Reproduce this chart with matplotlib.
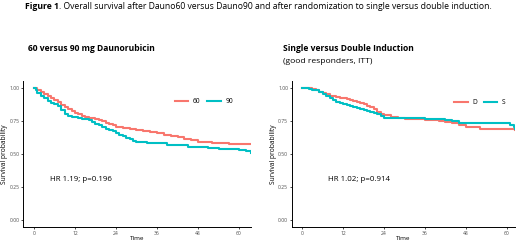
import matplotlib.pyplot as plt
from matplotlib.text import Annotation

# overall survival, 60 vs 90 mg daunorubicin
t60 = [0, 1, 2, 3, 4, 5, 6, 7, 8, 9, 10, 11, 12, 13, 14, 15, 16, 17, 18, 19, 20, 21, 22, 23, 24,
       26, 28, 30, 32, 34, 36, 38, 40, 42, 44, 46, 48, 50, 52, 54, 57, 60, 63.5]
s60 = [1.0, 0.98, 0.965, 0.95, 0.935, 0.92, 0.905, 0.89, 0.87, 0.855, 0.84, 0.825, 0.81, 0.80,
       0.79, 0.78, 0.775, 0.77, 0.76, 0.755, 0.745, 0.735, 0.725, 0.715, 0.705, 0.695, 0.69, 0.68,
       0.67, 0.665, 0.655, 0.645, 0.635, 0.625, 0.615, 0.605, 0.59, 0.588, 0.585, 0.58, 0.578,
       0.578, 0.578]
t90 = [0, 0.5, 1, 2, 3, 4, 5, 6, 7, 8, 9, 10, 11, 12, 13, 14, 15, 16, 17, 18, 19, 20, 21, 22, 23,
       24, 25, 26, 27, 28, 29, 30, 33, 36, 39, 42, 45, 48, 51, 54, 57, 60, 62, 63.5]
s90 = [1.0, 0.98, 0.96, 0.94, 0.92, 0.90, 0.885, 0.875, 0.86, 0.83, 0.80, 0.785, 0.78, 0.78, 0.77,
       0.765, 0.76, 0.755, 0.74, 0.725, 0.715, 0.705, 0.69, 0.68, 0.67, 0.655, 0.645, 0.635, 0.62,
       0.61, 0.60, 0.59, 0.585, 0.58, 0.57, 0.565, 0.555, 0.55, 0.545, 0.54, 0.535, 0.53, 0.52,
       0.505]

# single (S) vs double (D) induction
tD = [0, 3, 4, 5, 6, 7, 8, 9, 10, 11, 12, 13, 14, 15, 16, 17, 18, 19, 20, 21, 22, 23, 24, 26,
      28, 30, 36, 40, 42, 44, 46, 48, 52, 56, 60, 62, 62.4]
sD = [1.0, 0.99, 0.98, 0.97, 0.96, 0.955, 0.94, 0.935, 0.93, 0.925, 0.92, 0.915, 0.91, 0.90,
      0.895, 0.885, 0.875, 0.865, 0.855, 0.84, 0.82, 0.805, 0.795, 0.78, 0.77, 0.76, 0.755, 0.75,
      0.74, 0.73, 0.72, 0.70, 0.69, 0.69, 0.69, 0.685, 0.68]
tS = [0, 2, 3, 4, 5, 6, 7, 8, 9, 10, 11, 12, 13, 14, 15, 16, 17, 18, 19, 20, 21, 22, 23, 24, 30,
      36, 40, 42, 44, 46, 50, 55, 60, 61, 62, 62.4]
sS = [1.0, 0.99, 0.985, 0.98, 0.97, 0.955, 0.935, 0.92, 0.905, 0.895, 0.885, 0.88, 0.87, 0.865,
      0.855, 0.845, 0.84, 0.835, 0.825, 0.82, 0.81, 0.80, 0.785, 0.775, 0.77, 0.765, 0.76, 0.755,
      0.745, 0.735, 0.73, 0.73, 0.73, 0.72, 0.70, 0.69]

RED = '#F8766D'
TEAL = '#00BFC4'
plt.rcParams['font.family'] = ['Open Sans', 'DejaVu Sans']

fig = plt.figure(figsize=(5.2, 2.42), dpi=100)

# title: bold "Figure 1" followed by regular text
t1 = fig.text(25 / 520, 1 - 9 / 242, 'Figure 1', fontsize=6.2, fontweight='bold', va='baseline')
fig.add_artist(Annotation(
    '. Overall survival after Dauno60 versus Dauno90 and after randomization to single versus double induction.',
    xy=(1, 0), xycoords=t1, va='bottom', fontsize=6.2, annotation_clip=False))

fig.text(28 / 520, 1 - 51 / 242, '60 versus 90 mg Daunorubicin', fontsize=6.1, fontweight='bold', va='baseline')
fig.text(283 / 520, 1 - 51 / 242, 'Single versus Double Induction', fontsize=6.1, fontweight='bold', va='baseline')
fig.text(283 / 520, 1 - 63 / 242, '(good responders, ITT)', fontsize=6.1, va='baseline')

panels = [
    dict(rect=[23 / 520, 1 - 227 / 242, 228 / 520, 146 / 242], xlim=(-3.2, 63.5),
         curves=[(t60, s60, '60', RED), (t90, s90, '90', TEAL)],
         hr='HR 1.19; p=0.196', hrpos=(50, 181), leg=(204, 102)),
    dict(rect=[292 / 520, 1 - 227 / 242, 223 / 520, 146 / 242], xlim=(-3.0, 62.4),
         curves=[(tD, sD, 'D', RED), (tS, sS, 'S', TEAL)],
         hr='HR 1.02; p=0.914', hrpos=(328, 181), leg=(480, 103)),
]

for p in panels:
    ax = fig.add_axes(p['rect'])
    for t, s, lab, col in p['curves']:
        ax.step(t, s, where='post', color=col, lw=1.5, label=lab)
    ax.set_xlim(*p['xlim'])
    ax.set_ylim(-0.05, 1.05)
    ax.set_xticks([0, 12, 24, 36, 48, 60])
    ax.set_yticks([0, 0.25, 0.5, 0.75, 1.0])
    ax.set_yticklabels(['0.00', '0.25', '0.50', '0.75', '1.00'])
    ax.tick_params(labelsize=3.6, labelcolor='#4d4d4d', length=1.5, width=0.5, pad=1.2)
    for side in ['top', 'right']:
        ax.spines[side].set_visible(False)
    for side in ['left', 'bottom']:
        ax.spines[side].set_linewidth(0.7)
    ax.set_xlabel('Time', fontsize=4.6, labelpad=0.2)
    ax.set_ylabel('Survival probability', fontsize=4.8, labelpad=1)
    fig.text(p['hrpos'][0] / 520, 1 - p['hrpos'][1] / 242, p['hr'], fontsize=5.7, va='baseline')
    ax.legend(loc='center', bbox_to_anchor=(p['leg'][0] / 520, 1 - p['leg'][1] / 242),
              bbox_transform=fig.transFigure, ncol=2, frameon=False, fontsize=4.8,
              handlelength=2.0, handletextpad=0.7, columnspacing=1.0)

fig.savefig('out.png', dpi=100)
